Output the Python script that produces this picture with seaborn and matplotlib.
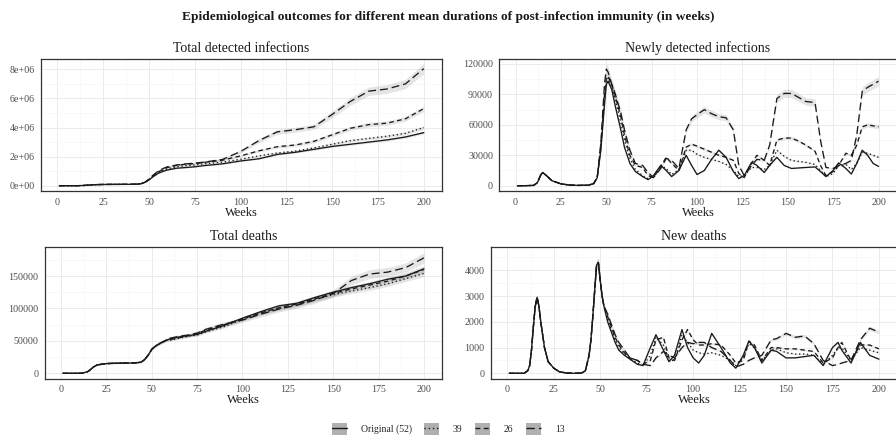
import numpy as np
import pandas as pd
import matplotlib
matplotlib.use("Agg")
import matplotlib.pyplot as plt
import seaborn as sns
from matplotlib.ticker import FuncFormatter, FixedLocator
from matplotlib.lines import Line2D
from matplotlib.patches import Patch
from matplotlib.legend_handler import HandlerTuple

# ---------------- data ----------------
scenarios = ["Original (52)", "39", "26", "13"]

# Newly detected infections (thousands)
weeks_new_inf = [1, 5, 10, 12, 14, 15, 17, 20, 25, 30, 35, 40, 43, 45, 47, 49, 50, 51, 53, 55, 58, 60,
                 63, 66, 70, 73, 76, 80, 83, 86, 90, 94, 97, 100, 104, 108, 112, 116, 120, 123, 126, 130,
                 133, 137, 140, 144, 148, 152, 156, 160, 165, 168, 171, 175, 178, 182, 185, 188, 191, 194,
                 197, 200]
early_inf = [0, 0, 0.3, 3, 11, 13, 10, 5, 1.8, 0.6, 0.3, 0.5, 2, 8]
new_inf_orig = early_inf + [35, 80, 100, 103, 95, 78, 55, 38, 22, 14, 9, 6, 10, 20, 15, 9, 15, 30, 20, 11,
                            15, 26, 35, 28, 14, 7, 10, 23, 20, 13, 20, 28, 20, 17, 17.5, 18, 18.5, 14, 9,
                            15, 22.5, 17, 11.5, 22, 35, 30, 22, 19]
new_inf_39 = early_inf + [40, 85, 103, 106, 98, 85, 62, 45, 27, 16, 10, 7, 9, 20, 17, 11, 16, 35, 35, 31,
                          28, 26, 24, 21, 15, 9, 10, 18, 18, 16, 20, 35, 29, 25, 24, 23, 21, 15, 9, 12, 20,
                          21, 16, 22, 33, 32, 30, 28]
new_inf_26 = early_inf + [38, 90, 106, 108, 100, 88, 68, 50, 30, 20, 18, 10, 8, 19, 28, 22, 15, 38, 41, 39,
                          36, 33, 30, 28, 25, 12, 8, 22, 30, 25, 20, 45, 47, 47, 44, 40, 34, 20, 10, 14, 20,
                          32, 30, 40, 58, 60, 59, 58]
new_inf_13 = early_inf + [42, 100, 115, 112, 100, 90, 72, 55, 35, 22, 20, 13, 8, 17, 27, 25, 17, 55, 66, 70,
                          75, 71, 68, 67, 55, 20, 10, 20, 26, 25, 40, 86, 91, 91, 87, 83, 82, 45, 18, 17, 20,
                          22, 25, 50, 93, 97, 100, 103]

# New deaths
weeks_new_deaths = [1, 5, 9, 11, 12, 13, 14, 15, 16, 17, 18, 19, 20, 22, 25, 28, 32, 36, 40, 42, 44, 45, 46,
                    47, 48, 49, 50, 51, 52, 54, 56, 58, 60, 63, 66, 70, 73, 77, 80, 84, 87, 90, 94, 97, 100,
                    103, 106, 110, 115, 120, 123, 127, 130, 133, 137, 142, 145, 150, 155, 160, 165, 170, 175,
                    178, 180, 185, 190, 195, 200]
early_deaths = [0, 0, 0, 100, 300, 900, 1800, 2600, 2950, 2600, 2000, 1500, 1000, 450, 200, 60, 10, 0, 10,
                100, 700, 1300, 2200, 3200, 4200, 4300, 3600, 3000, 2600]
new_deaths_orig = early_deaths + [2000, 1600, 1200, 900, 700, 550, 350, 300, 1000, 1500, 900, 450, 700, 1700,
                                  1000, 600, 400, 700, 1550, 1000, 400, 200, 700, 1250, 1000, 400, 900, 850,
                                  600, 600, 650, 700, 300, 1000, 1200, 900, 400, 1200, 700, 550]
new_deaths_39 = early_deaths + [2100, 1700, 1300, 1000, 750, 550, 400, 300, 700, 1400, 1100, 500, 500, 1500,
                                1200, 900, 800, 750, 800, 700, 500, 300, 600, 1150, 1000, 500, 900, 950, 800,
                                750, 750, 700, 350, 700, 1000, 1000, 500, 1000, 900, 800]
new_deaths_26 = early_deaths + [2200, 1800, 1400, 1100, 800, 600, 500, 350, 500, 1300, 1400, 600, 500, 1300,
                                1700, 1300, 1100, 1100, 1150, 1100, 700, 400, 500, 1250, 1100, 500, 1000, 1000,
                                950, 950, 900, 850, 400, 600, 1000, 1200, 500, 1100, 1100, 950]
new_deaths_13 = early_deaths + [2300, 1900, 1500, 1200, 900, 600, 500, 350, 300, 600, 850, 700, 600, 1000,
                                1200, 1150, 1200, 1200, 1000, 850, 500, 250, 350, 500, 600, 700, 1300, 1350,
                                1550, 1400, 1450, 1150, 500, 300, 350, 400, 500, 1300, 1750, 1600]

# Totals
weeks_total = [1, 10, 12, 15, 18, 20, 25, 30, 40, 44, 46, 48, 50, 52, 55, 58, 60, 65, 70, 75, 80, 90, 100,
               110, 120, 130, 140, 150, 160, 170, 180, 190, 200]
# Total detected infections (millions)
early_tot_inf = [0, 0, 0.005, 0.02, 0.05, 0.07, 0.085, 0.09, 0.095, 0.11, 0.15, 0.25]
tot_inf_orig = early_tot_inf + [0.40, 0.60, 0.85, 1.00, 1.08, 1.20, 1.25, 1.30, 1.38, 1.50, 1.70, 1.85, 2.15,
                                2.30, 2.50, 2.70, 2.85, 3.00, 3.15, 3.35, 3.65]
tot_inf_39 = early_tot_inf + [0.42, 0.63, 0.90, 1.08, 1.15, 1.30, 1.38, 1.42, 1.50, 1.62, 1.82, 2.05, 2.25,
                              2.38, 2.60, 2.85, 3.10, 3.25, 3.40, 3.60, 4.00]
tot_inf_26 = early_tot_inf + [0.43, 0.65, 0.95, 1.15, 1.25, 1.40, 1.48, 1.52, 1.60, 1.75, 2.05, 2.40, 2.68,
                              2.80, 3.05, 3.50, 3.95, 4.20, 4.30, 4.60, 5.30]
tot_inf_13 = early_tot_inf + [0.45, 0.70, 1.00, 1.20, 1.30, 1.42, 1.50, 1.55, 1.62, 1.80, 2.35, 3.10, 3.70,
                              3.85, 4.05, 4.90, 5.80, 6.50, 6.65, 7.00, 8.05]
# Total deaths (thousands)
early_tot_d = [0, 0, 0.3, 3, 10, 13, 15, 15.5, 16, 17, 21, 28, 37, 42, 47, 51]
tot_d_orig = early_tot_d + [53, 56, 58, 60, 65, 74, 85, 95, 104, 108, 117, 125, 132, 138, 145, 150, 161]
tot_d_39 = early_tot_d + [51, 54, 57, 59, 64, 72, 83, 93, 100, 106, 114, 121, 127, 132, 138, 146, 154]
tot_d_26 = early_tot_d + [52, 55, 58, 61, 67, 75, 84, 93, 101, 107, 115, 123, 130, 136, 142, 150, 160]
tot_d_13 = early_tot_d + [54, 57, 59, 62, 68, 76, 82, 91, 99, 105, 113, 123, 143, 153, 156, 163, 178]

# relative half-width of grey uncertainty ribbons
ribbon_rel = {"Original (52)": 0.025, "39": 0.03, "26": 0.035, "13": 0.045}

panels = [
    ("Total detected infections", weeks_total, [tot_inf_orig, tot_inf_39, tot_inf_26, tot_inf_13], 1e6),
    ("Newly detected infections", weeks_new_inf, [new_inf_orig, new_inf_39, new_inf_26, new_inf_13], 1e3),
    ("Total deaths", weeks_total, [tot_d_orig, tot_d_39, tot_d_26, tot_d_13], 1e3),
    ("New deaths", weeks_new_deaths, [new_deaths_orig, new_deaths_39, new_deaths_26, new_deaths_13], 1.0),
]

# ---------------- style ----------------
sns.set_theme(style="white")
plt.rcParams["font.family"] = ["Liberation Serif", "DejaVu Serif"]

dashes = {"Original (52)": "", "39": (1, 2), "26": (3.5, 2.5), "13": (6, 3)}

fig = plt.figure(figsize=(8.96, 4.4), dpi=100)
positions = [
    [41 / 896, 1 - 191.3 / 440, 401 / 896, 132 / 440],
    [499.3 / 896, 1 - 191.3 / 440, 397.3 / 896, 132 / 440],
    [44.8 / 896, 1 - 379 / 440, 397.2 / 896, 131.7 / 440],
    [490.7 / 896, 1 - 379 / 440, 406.7 / 896, 131.7 / 440],
]
ylims = [(-0.385e6, 8.69e6), (-5520, 124630), (-8790, 194250), (-221, 4893)]
yticks = [[0, 2e6, 4e6, 6e6, 8e6], [0, 30000, 60000, 90000, 120000],
          [0, 50000, 100000, 150000], [0, 1000, 2000, 3000, 4000]]

for i, (title, wk, series, scale) in enumerate(panels):
    ax = fig.add_axes(positions[i])
    frames = []
    for name, vals in zip(scenarios, series):
        v = np.array(vals, dtype=float) * scale
        frames.append(pd.DataFrame({"week": wk, "value": v, "scenario": name}))
        band = np.abs(v) * ribbon_rel[name]
        ax.fill_between(wk, v - band, v + band, color="#999999", alpha=0.25, linewidth=0, zorder=1)
    df = pd.concat(frames, ignore_index=True)
    sns.lineplot(data=df, x="week", y="value", style="scenario", style_order=scenarios,
                 dashes=dashes, color="#1a1a1a", linewidth=0.95, legend=False, ax=ax, zorder=3)
    ax.set_xlim(1 - 9.95, 200 + 9.95)
    ax.set_ylim(*ylims[i])
    ax.set_xticks([0, 25, 50, 75, 100, 125, 150, 175, 200])
    ax.set_yticks(yticks[i])
    ax.xaxis.set_minor_locator(FixedLocator(np.arange(12.5, 200, 25)))
    yt = yticks[i]
    step = yt[1] - yt[0]
    ax.yaxis.set_minor_locator(FixedLocator(np.arange(yt[0] + step / 2, ylims[i][1], step)))
    if i == 0:
        ax.yaxis.set_major_formatter(FuncFormatter(lambda v, p: f"{v:.0e}"))
    else:
        ax.yaxis.set_major_formatter(FuncFormatter(lambda v, p: f"{int(round(v))}"))
    ax.grid(which="major", color="#EBEBEB", linewidth=0.7)
    ax.grid(which="minor", color="#F5F5F5", linewidth=0.5)
    ax.set_axisbelow(True)
    for s in ax.spines.values():
        s.set_color("#333333")
        s.set_linewidth(0.9)
    ax.tick_params(which="major", length=2.5, width=0.6, color="#333333",
                   labelsize=7.2, labelcolor="#4D4D4D", pad=2)
    ax.tick_params(which="minor", length=0)
    ax.set_xlabel("Weeks", fontsize=9, color="#1a1a1a", labelpad=0)
    ax.set_ylabel("")
    ax.set_title(title, fontsize=10, color="#1a1a1a", pad=5)

fig.text(0.5, 1 - 17 / 440, "Epidemiological outcomes for different mean durations of post-infection immunity (in weeks)",
         ha="center", va="center", fontsize=9.6, fontweight="bold", color="#1a1a1a")

handles = []
for name in scenarios:
    p = Patch(facecolor="#B0B0B0", edgecolor="none")
    ln = Line2D([], [], color="#1a1a1a", linewidth=1.0,
                linestyle="-" if dashes[name] == "" else (0, dashes[name]))
    handles.append((p, ln))
fig.legend(handles, scenarios, handler_map={tuple: HandlerTuple(ndivide=1, pad=0)},
           loc="center", bbox_to_anchor=(0.5, 1 - 429 / 440), ncol=4, frameon=False,
           fontsize=7, handlelength=1.6, handleheight=1.5, handletextpad=1.4, columnspacing=1.25)

fig.savefig("out.png", dpi=100)
